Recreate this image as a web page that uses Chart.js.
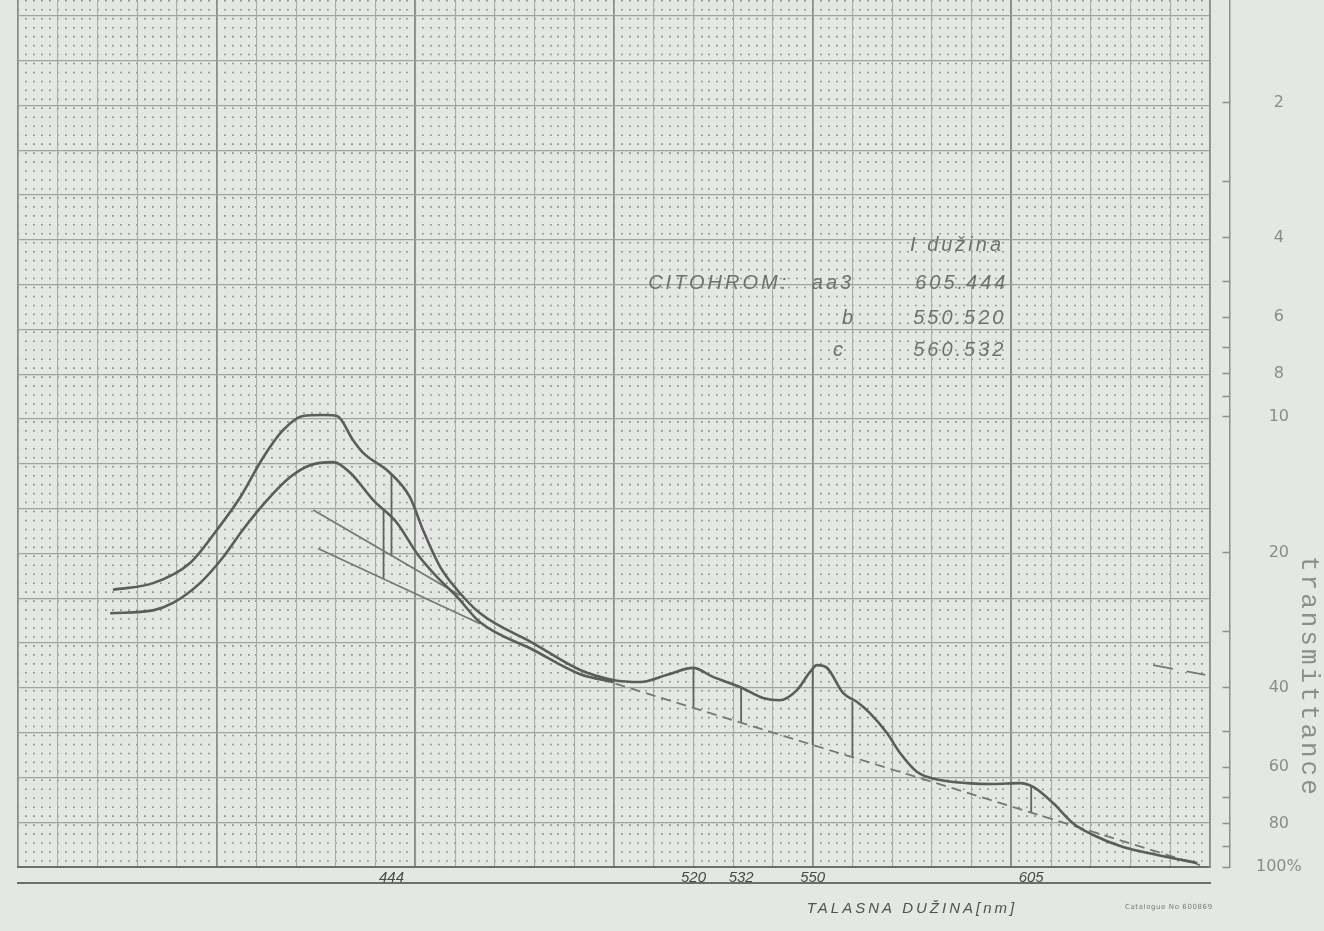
<!DOCTYPE html>
<html>
<head>
<meta charset="utf-8">
<script src="https://cdn.jsdelivr.net/npm/chart.js@4.4.1/dist/chart.umd.min.js"></script>
<style>
  html, body { margin: 0; padding: 0; background: #e5e7e5; }
  canvas { display: block; background: #e5e7e5; }
</style>
</head>
<body>
<canvas id="spektar" width="1324" height="931"></canvas>
<script>
// talasna duzina (nm) i transmitancija (%) ocitane sa papira
const curveANm = [373.9, 384.0, 393.3, 400.1, 405.9, 411.7, 416.7, 421.7, 426.8, 430.3, 434.3, 436.8, 443.6, 448.7, 451.9, 456.2, 460.5, 466.3, 479.6, 491.5, 499.8, 506.6, 513.4, 519.9, 524.9, 531.7, 537.5, 541.8, 546.1, 549.3, 551.1, 553.6, 557.7, 561.2, 564.4, 568.7, 572.0, 576.3, 582.1, 588.9, 595.4, 602.2, 605.5, 610.5, 615.5, 620.6, 628.1, 636.7, 646.8];
const curveAT = [24.2, 23.4, 21.1, 17.8, 15.1, 12.3, 10.7, 9.95, 9.9, 9.95, 11.25, 12.0, 13.3, 15.1, 17.8, 21.5, 24.2, 27.3, 31.8, 36.5, 38.4, 38.8, 37.4, 36.1, 37.8, 39.8, 42.1, 42.6, 40.4, 36.9, 35.6, 36.1, 41.1, 43.0, 45.5, 50.4, 55.8, 61.5, 64.1, 65.1, 65.4, 65.1, 66.4, 72.1, 79.9, 84.9, 90.3, 94.0, 98.0];

const curveBNm = [373.2, 384.0, 389.0, 395.8, 401.6, 406.6, 412.7, 418.5, 423.5, 429.3, 433.6, 439.4, 445.4, 450.4, 455.5, 460.5, 466.3, 479.6, 491.5, 499.8];
const curveBT = [27.3, 26.9, 25.9, 23.4, 20.5, 17.8, 15.3, 13.6, 12.8, 12.6, 13.3, 15.3, 17.2, 20.1, 22.7, 25.1, 28.6, 32.9, 37.3, 38.8];

// bazne linije
const soretBaseANm = [424.3, 461.2];
const soretBaseAT = [16.1, 24.9];
const soretBaseBNm = [425.5, 466.3];
const soretBaseBT = [19.6, 28.8];
const visBaseNm = [496.5, 647.5];
const visBaseT = [38.2, 99.0];
const strayNm = [635.7, 648.8];
const strayT = [35.6, 37.4];

// vertikale od pika do bazne linije
const dropNm = [444, 442, 520, 532, 550, 560, 605];
const dropTop = [13.4, 16.1, 36.1, 39.9, 36.3, 42.8, 66.2];
const dropBottom = [20.3, 22.9, 44.3, 47.8, 53.6, 57.0, 75.8];

// oznake na osama
const xTickNm = [444, 520, 532, 550, 605];
const yTickMarks = [2, 3, 4, 5, 6, 7, 8, 9, 10, 20, 30, 40, 50, 60, 70, 80, 90, 100];
const yTickLabels = [2, 4, 6, 8, 10, 20, 40, 60, 80, 100];

// natpisi na papiru
const noteText = ['I dužina', 'CITOHROM:', 'aa3', '605.444', 'b', '550.520', 'c', '560.532'];
const noteNm = [574.5, 508.6, 549.8, 575.8, 557.4, 575.3, 555.1, 575.3];
const noteT = [4.15, 5.04, 5.04, 5.04, 6.03, 6.03, 7.10, 7.10];

const pts = (xs, ys) => xs.map((x, i) => ({ x, y: ys[i] }));

const curveStyle = { borderColor: '#5b5d5b', borderWidth: 2.6, pointRadius: 0, cubicInterpolationMode: 'monotone' };
const baseStyle = { borderColor: '#767876', borderWidth: 1.8, pointRadius: 0, tension: 0 };

const datasets = [
  { label: 'A', data: pts(curveANm, curveAT), ...curveStyle },
  { label: 'B', data: pts(curveBNm, curveBT), ...curveStyle },
  { label: 'baza A', data: pts(soretBaseANm, soretBaseAT), ...baseStyle },
  { label: 'baza B', data: pts(soretBaseBNm, soretBaseBT), ...baseStyle },
  { label: 'baza vis', data: pts(visBaseNm, visBaseT), ...baseStyle, borderDash: [10, 6] },
  { label: 'crtice', data: pts(strayNm, strayT), ...baseStyle, borderDash: [20, 14] }
];
dropNm.forEach((nm, i) => {
  datasets.push({ label: 'v' + nm, data: pts([nm, nm], [dropTop[i], dropBottom[i]]), ...baseStyle, borderColor: '#626462', borderWidth: 1.8 });
});

// pomocne ose samo za mrezu papira
const noH = s => { s.height = 0; };
const noW = s => { s.width = 0; };
const gridAxis = (pos, min, max, step, color, width, dash, weight) => ({
  type: 'linear', position: pos, min, max, weight,
  ticks: { display: false, stepSize: step, autoSkip: false, includeBounds: false },
  grid: { drawTicks: false, color, lineWidth: width },
  border: { display: false, dash: dash },
  afterFit: pos === 'bottom' ? noH : noW
});

const paperText = {
  id: 'paperText',
  afterDraw(chart) {
    const { ctx, scales: { x, y } } = chart;
    ctx.save();
    ctx.textBaseline = 'middle';
    ctx.textAlign = 'left';
    ctx.fillStyle = '#6f716f';
    ctx.font = 'italic 20px "Liberation Sans"';
    ctx.letterSpacing = '3px';
    noteText.forEach((t, i) => {
      ctx.fillText(t, x.getPixelForValue(noteNm[i]), y.getPixelForValue(noteT[i]));
    });

    ctx.fillStyle = '#505250';
    ctx.font = 'italic 15px "Liberation Sans"';
    ctx.textAlign = 'center';
    ctx.fillText('TALASNA DUŽINA[nm]', x.getPixelForValue(575), chart.chartArea.bottom + 42);

    ctx.fillStyle = '#7a7c7a';
    ctx.font = '7px "DejaVu Sans"';
    ctx.letterSpacing = '0.6px';
    ctx.textAlign = 'left';
    ctx.fillText('Catalogue No 600869', x.getPixelForValue(628.6), chart.chartArea.bottom + 40);

    ctx.fillStyle = '#8c8e8c';
    ctx.font = '26px "Liberation Mono"';
    ctx.letterSpacing = '3px';
    ctx.textAlign = 'center';
    ctx.translate(chart.width - 15, y.getPixelForValue(37.8));
    ctx.rotate(Math.PI / 2);
    ctx.fillText('transmittance', 0, 0);
    ctx.restore();
  }
};

new Chart(document.getElementById('spektar'), {
  type: 'line',
  data: { datasets },
  plugins: [paperText],
  options: {
    responsive: false,
    animation: false,
    devicePixelRatio: 1,
    layout: { padding: { left: 18, top: 0, right: 0, bottom: 0 }, autoPadding: false },
    plugins: { legend: { display: false }, tooltip: { enabled: false } },
    scales: {
      x: {
        type: 'linear', position: 'bottom', min: 350, max: 650, weight: 1,
        afterBuildTicks: s => { s.ticks = xTickNm.map(v => ({ value: v })); },
        ticks: { autoSkip: false, maxRotation: 0, padding: 2, color: '#484a48',
                 font: { family: 'Liberation Sans', size: 15, style: 'italic' }, callback: v => String(v) },
        grid: { display: false, drawTicks: false },
        border: { display: true, color: '#6c6e6c', width: 2 },
        afterFit: s => { s.height = 16; s.paddingLeft = 0; s.paddingRight = 0; }
      },
      x2: {
        type: 'linear', position: 'bottom', min: 350, max: 650, weight: 2,
        ticks: { display: false },
        grid: { display: false, drawTicks: false },
        border: { display: true, color: '#6c6e6c', width: 2 },
        afterFit: s => { s.height = 48; }
      },
      y: {
        type: 'logarithmic', position: 'right', reverse: true, min: 1.184, max: 100, weight: 1,
        afterBuildTicks: s => { s.ticks = yTickMarks.map(v => ({ value: v })); },
        ticks: { display: false },
        grid: { drawOnChartArea: false, drawTicks: true, tickLength: 20, tickColor: '#8d8f8d',
                tickWidth: 1.3, tickBorderDash: [0, 12, 8, 40] },
        border: { display: true, color: '#8d8f8d', width: 1.5 },
        afterFit: s => { s.width = 20; s.paddingTop = 0; s.paddingBottom = 0; }
      },
      ys: {
        type: 'logarithmic', position: 'right', reverse: true, min: 1.184, max: 100, weight: 2,
        afterBuildTicks: s => { s.ticks = yTickLabels.map(v => ({ value: v })); },
        ticks: { autoSkip: false, padding: 26, crossAlign: 'center', color: '#8a8c8a',
                 font: { family: 'DejaVu Sans', size: 16 },
                 callback: v => (v === 100 ? '100%' : String(v)) },
        grid: { drawOnChartArea: false, drawTicks: false },
        border: { display: true, color: '#8d8f8d', width: 1.5 },
        afterFit: s => { s.width = 94; s.paddingTop = 0; s.paddingBottom = 0; }
      },
      gxDot: gridAxis('bottom', 350, 650, 2, '#8e908e', 1.8, [1.6, 7.36], 5),
      gx10: gridAxis('bottom', 350, 650, 10, '#a9aba9', 1.1, [], 4),
      gx50: gridAxis('bottom', 350, 650, 50, '#8a8c8a', 1.7, [], 3),
      gy: gridAxis('left', 0, 867 / 44.8, 1, '#a0a2a0', 1.3, [], 3)
    }
  }
});
</script>
</body>
</html>
